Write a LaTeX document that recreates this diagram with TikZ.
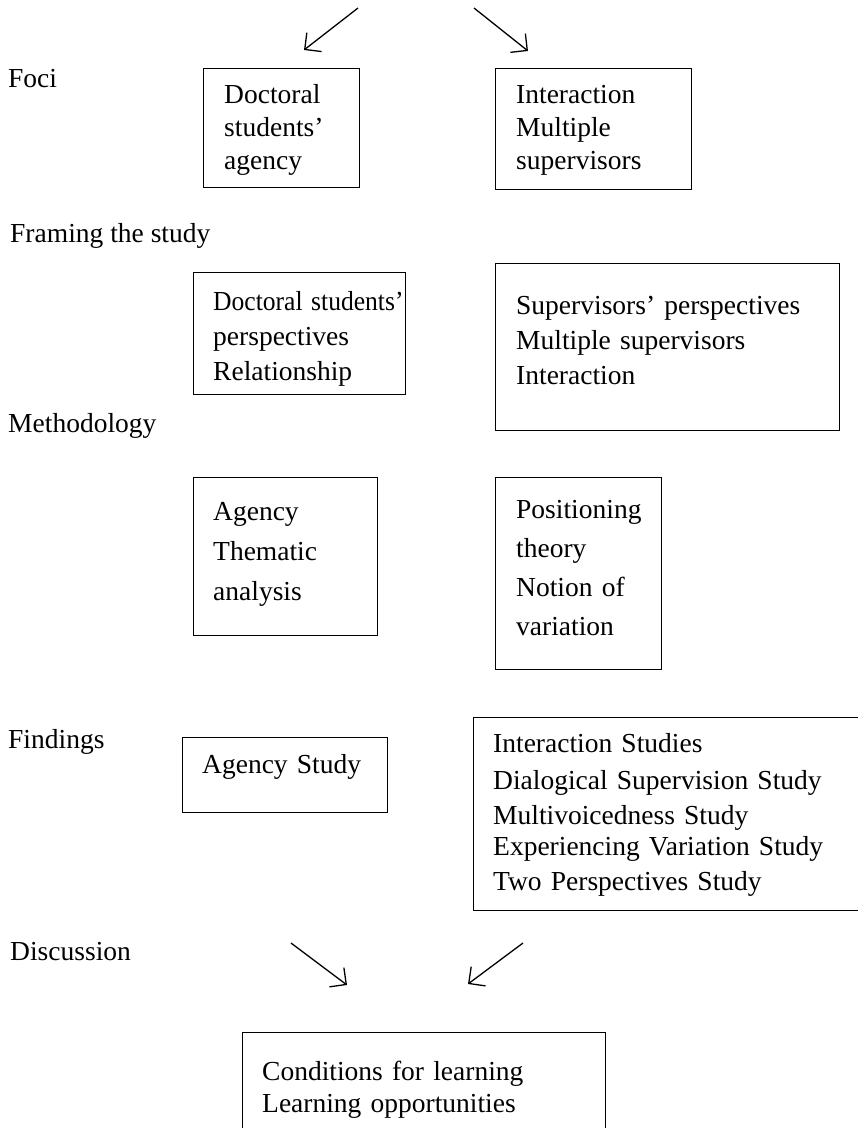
\documentclass[tikz,border=0pt]{standalone}
\usepackage{fontspec}
\usepackage{graphicx}
\setmainfont{Liberation Serif}
\usetikzlibrary{arrows.meta,calc,positioning}

\tikzset{
	box/.style={draw,line width=1pt,anchor=north west,inner sep=0pt,outer sep=0pt},
	boxtext/.style={anchor=base west,inner sep=0pt,text width=400pt,align=left,font=\fontsize{27.5}{35}\selectfont},
	rowlabel/.style={anchor=base west,inner sep=0pt,font=\fontsize{27.5}{33}\selectfont},
	barb/.style={-{Straight Barb[length=12pt,width=24pt]},line width=1.3pt},
}

\begin{document}
\begin{tikzpicture}[x=1pt,y=-1pt]
	
	\useasboundingbox (0,0) rectangle (858,1128);
	
	%%%%%%%%%%%%%%%%%%%%%%%%%%%%%%%%%%%%%%%%%%%%%%%%%%%%%%
	
	\node [rowlabel] (foci) at (8,87) {Foci};
	\node [rowlabel] (framing) at (10,242) {Framing the study};
	\node [rowlabel] (methodology) at (8,432) {Methodology};
	\node [rowlabel] (findings) at (8,748) {Findings};
	\node [rowlabel] (discussion) at (10,960) {Discussion};
	
	%%%%%%%%%%%%%%%%%%%%%%%%%%%%%%%%%%%%%%%%%%%%%%%%%%%%%%
	
	\node [box,minimum width=156,minimum height=119] (foci-agency) at (203,68) {};
	\node [boxtext] (foci-agency-text) at ($(foci-agency.north west)+(21,35)$)
		{Doctoral\\[-2pt]students'\\[-2pt]agency};
	
	\node [box,minimum width=196,minimum height=121] (foci-interaction) at (495,68) {};
	\node [boxtext] (foci-interaction-text) at ($(foci-interaction.north west)+(21,35)$)
		{Interaction\\[-2pt]Multiple\\[-2pt]supervisors};
	
	%%%%%%%%%%%%%%%%%%%%%%%%%%%%%%%%%%%%%%%%%%%%%%%%%%%%%%
	
	\node [box,minimum width=212,minimum height=122] (framing-students) at (193,272) {};
	\node [boxtext] (framing-students-text) at ($(framing-students.north west)+(20,38)$)
		{\scalebox{0.93}[1]{Doctoral students'}\\perspectives\\Relationship};
	
	\node [box,minimum width=344,minimum height=167] (framing-supervisors) at (495,263) {};
	\node [boxtext] (framing-supervisors-text) at ($(framing-supervisors.north west)+(21,51)$)
		{Supervisors' perspectives\\Multiple supervisors\\Interaction};
	
	%%%%%%%%%%%%%%%%%%%%%%%%%%%%%%%%%%%%%%%%%%%%%%%%%%%%%%
	
	\node [box,minimum width=184,minimum height=158] (method-agency) at (193,477) {};
	\node [boxtext] (method-agency-text) at ($(method-agency.north west)+(20,43)$)
		{Agency\\[5pt]Thematic\\[5pt]analysis};
	
	\node [box,minimum width=166,minimum height=192] (method-positioning) at (495,477) {};
	\node [boxtext] (method-positioning-text) at ($(method-positioning.north west)+(21,41)$)
		{Positioning\\[4pt]theory\\[4pt]Notion of\\[4pt]variation};
	
	%%%%%%%%%%%%%%%%%%%%%%%%%%%%%%%%%%%%%%%%%%%%%%%%%%%%%%
	
	\node [box,minimum width=205,minimum height=75] (find-agency) at (182,737) {};
	\node [boxtext] (find-agency-text) at ($(find-agency.north west)+(20,36)$) {Agency Study};
	
	\node [box,minimum width=420,minimum height=193] (find-interaction) at (473,717) {};
	\node [boxtext] (find-interaction-text) at ($(find-interaction.north west)+(20,35)$)
		{Interaction Studies\\[2pt]Dialogical Supervision Study\\Multivoicedness Study\\[-4pt]Experiencing Variation Study\\Two Perspectives Study};
	
	%%%%%%%%%%%%%%%%%%%%%%%%%%%%%%%%%%%%%%%%%%%%%%%%%%%%%%
	
	\node [box,minimum width=363,minimum height=120] (conclusion) at (242,1032) {};
	\node [boxtext] (conclusion-text) at ($(conclusion.north west)+(20,48)$)
		{Conditions for learning\\[-3pt]Learning opportunities};
	
	%%%%%%%%%%%%%%%%%%%%%%%%%%%%%%%%%%%%%%%%%%%%%%%%%%%%%%
	
	\coordinate (top-left-start) at (358,8);
	\coordinate (top-left-end) at (304,50);
	\coordinate (top-right-start) at (474,8);
	\coordinate (top-right-end) at (528,51);
	\coordinate (bottom-left-start) at (291,943);
	\coordinate (bottom-left-end) at (347,985);
	\coordinate (bottom-right-start) at (523,943);
	\coordinate (bottom-right-end) at (468,984);
	
	\draw [barb] (top-left-start) -- (top-left-end);
	\draw [barb] (top-right-start) -- (top-right-end);
	\draw [barb] (bottom-left-start) -- (bottom-left-end);
	\draw [barb] (bottom-right-start) -- (bottom-right-end);
	
\end{tikzpicture}
\end{document}
